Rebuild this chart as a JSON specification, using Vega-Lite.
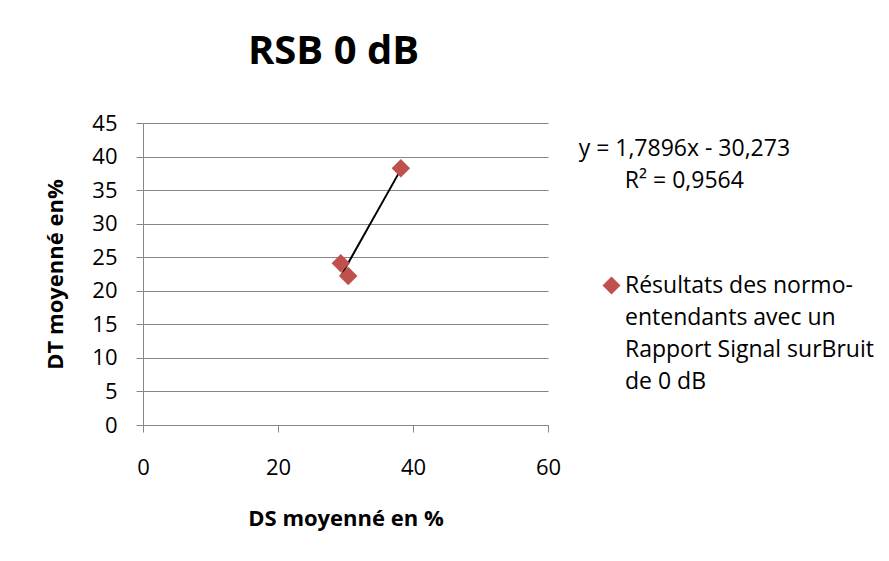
{
  "$schema": "https://vega.github.io/schema/vega-lite/v6.json",
  "width": 405,
  "height": 302,
  "autosize": {"type": "none"},
  "padding": {"left": 143, "top": 123, "right": 341, "bottom": 136},
  "background": "white",
  "title": {"text": "RSB 0 dB", "font": "Open Sans", "fontSize": 40, "fontWeight": "bold", "color": "black", "anchor": "middle", "dx": -12, "offset": 40},
  "config": {
    "view": {"stroke": null},
    "font": "Open Sans",
    "style": {"guide-label": {"lineHeight": 32}},
    "axis": {"labelFont": "Open Sans", "titleFont": "Open Sans", "labelColor": "black", "titleColor": "black", "domainColor": "#868686", "tickColor": "#868686", "gridColor": "#868686", "labelFontSize": 22, "titleFontSize": 22, "titleFontWeight": "bold", "tickSize": 7, "labelOverlap": false, "labelFlush": false}
  },
  "datasets": {
    "pts": [
      {"ds": 29.3, "dt": 24.1, "serie": "Résultats des normo-|entendants avec un|Rapport Signal surBruit|de 0 dB"},
      {"ds": 30.4, "dt": 22.2, "serie": "Résultats des normo-|entendants avec un|Rapport Signal surBruit|de 0 dB"},
      {"ds": 38.2, "dt": 38.25, "serie": "Résultats des normo-|entendants avec un|Rapport Signal surBruit|de 0 dB"}
    ],
    "trend": [
      {"ds": 29.3, "dt": 22.16},
      {"ds": 38.2, "dt": 38.09}
    ],
    "eq": [
      {"label": "y = 1,7896x - 30,273\nR² = 0,9564"}
    ]
  },
  "layer": [
    {
      "data": {"name": "trend"},
      "mark": {"type": "line", "color": "black", "strokeWidth": 2},
      "encoding": {
        "x": {"field": "ds", "type": "quantitative", "scale": {"domain": [0, 60], "nice": false}, "axis": {"values": [0, 20, 40, 60], "grid": false, "title": "DS moyenné en %", "labelPadding": 25, "titlePadding": 30}},
        "y": {"field": "dt", "type": "quantitative", "scale": {"domain": [0, 45], "nice": false}, "axis": {"values": [0, 5, 10, 15, 20, 25, 30, 35, 40, 45], "tickCount": 10, "grid": true, "title": "DT moyenné en%", "labelPadding": 19, "titlePadding": 24}}
      }
    },
    {
      "data": {"name": "pts"},
      "mark": {"type": "point", "shape": "diamond", "filled": true, "opacity": 1, "size": 340},
      "encoding": {
        "x": {"field": "ds", "type": "quantitative", "scale": {"domain": [0, 60], "nice": false}, "axis": {"values": [0, 20, 40, 60], "grid": false, "title": "DS moyenné en %", "labelPadding": 25, "titlePadding": 30}},
        "y": {"field": "dt", "type": "quantitative", "scale": {"domain": [0, 45], "nice": false}, "axis": {"values": [0, 5, 10, 15, 20, 25, 30, 35, 40, 45], "tickCount": 10, "grid": true, "title": "DT moyenné en%", "labelPadding": 19, "titlePadding": 24}},
        "color": {"field": "serie", "type": "nominal", "scale": {"range": ["#C0504D"]}, "legend": {"title": null, "orient": "none", "legendX": 457, "legendY": 151, "labelFontSize": 23, "labelFont": "Open Sans", "labelColor": "black", "labelExpr": "split(datum.label, '|')", "labelLimit": 0, "symbolType": "diamond", "symbolSize": 324, "symbolOpacity": 1, "labelOffset": 2}}
      }
    },
    {
      "data": {"name": "eq"},
      "mark": {"type": "text", "align": "center", "baseline": "alphabetic", "lineBreak": "\n", "lineHeight": 32, "fontSize": 23, "font": "Open Sans", "color": "black"},
      "encoding": {
        "x": {"datum": 80.2, "type": "quantitative", "scale": {"domain": [0, 60], "nice": false}, "axis": {"values": [0, 20, 40, 60], "grid": false, "title": "DS moyenné en %", "labelPadding": 25, "titlePadding": 30}},
        "y": {"datum": 40.08, "type": "quantitative", "scale": {"domain": [0, 45], "nice": false}, "axis": {"values": [0, 5, 10, 15, 20, 25, 30, 35, 40, 45], "tickCount": 10, "grid": true, "title": "DT moyenné en%", "labelPadding": 19, "titlePadding": 24}},
        "text": {"field": "label"}
      }
    }
  ]
}
